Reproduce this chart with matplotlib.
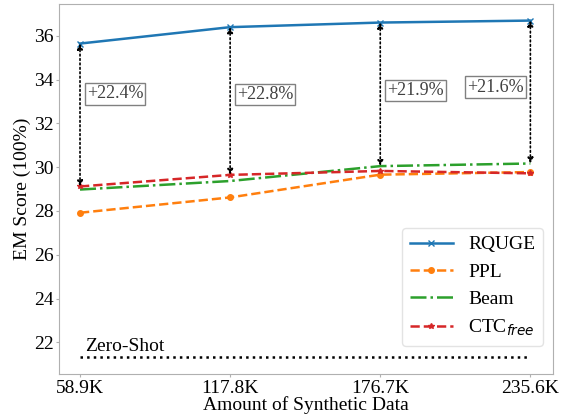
import matplotlib
matplotlib.use('Agg')
import numpy as np
from matplotlib import pyplot as plt

# data
sizes       = ['58.9K', '117.8K', '176.7K', '235.6K']
rquge       = [35.65, 36.40, 36.61, 36.70]
ppl         = [27.92, 28.62, 29.66, 29.78]
beam        = [28.98, 29.37, 30.05, 30.17]
ctc_free    = [29.12, 29.65, 29.83, 29.72]
zero_shot   = 21.33
gains       = ['+22.4%', '+22.8%', '+21.9%', '+21.6%']
gain_label_y = [33.35, 33.33, 33.50, 33.66]

plt.rcParams['font.family'] = ['Liberation Serif', 'DejaVu Serif']
plt.rcParams['mathtext.fontset'] = 'dejavusans'


def main():
    x = np.arange(len(sizes))

    fig = plt.figure(figsize=(5.7, 4.17), dpi=100)
    ax = fig.add_subplot(1, 1, 1)
    fig.subplots_adjust(left=0.1035, right=0.970, top=0.990, bottom=0.103)

    ax.plot(x, rquge, color='tab:blue', lw=1.8, marker='x', ms=4, label='RQUGE')
    ax.plot(x, ppl, color='tab:orange', lw=1.8, ls='--', marker='o', ms=4, label='PPL')
    ax.plot(x, beam, color='tab:green', lw=1.8, ls='-.', label='Beam')
    ax.plot(x, ctc_free, color='tab:red', lw=1.8, ls='--', marker='*', ms=4,
            label=r'CTC$_{free}$')

    ax.plot(x, [zero_shot] * len(x), color='black', ls=':', lw=1.8)
    ax.text(0.035, zero_shot + 0.5, 'Zero-Shot', fontsize=14, va='center', ha='left')

    # arrows between RQUGE and the best baseline
    best = np.max(np.vstack([ppl, beam, ctc_free]), axis=0)
    for i in range(len(x)):
        ax.annotate('', xy=(x[i], best[i]), xytext=(x[i], rquge[i]),
                    arrowprops=dict(arrowstyle='<|-|>', color='black', lw=1.2,
                                    ls=':', shrinkA=0, shrinkB=0,
                                    mutation_scale=8))
        last = i == len(x) - 1
        tx = x[i] - 0.045 if last else x[i] + 0.045
        ax.text(tx, gain_label_y[i], gains[i], fontsize=13, color='#404040',
                ha='right' if last else 'left', va='center',
                bbox=dict(boxstyle='square,pad=0.12', facecolor='white',
                          edgecolor='#808080', lw=1))

    ax.set_xticks(x)
    ax.set_xticklabels(sizes)
    ax.set_yticks(np.arange(22, 37, 2))
    ax.set_ylim(20.55, 37.45)
    ax.set_xlim(-0.14, 3.15)
    ax.tick_params(labelsize=14, length=2, color='#b0b0b0', pad=2)
    ax.set_xlabel('Amount of Synthetic Data', size=14, labelpad=0)
    ax.set_ylabel('EM Score (100%)', size=14, labelpad=2)

    for s in ax.spines.values():
        s.set_color('#b0b0b0')

    ax.legend(loc='lower right', bbox_to_anchor=(1, 0.05), fontsize=14,
              handlelength=2.2, edgecolor='#dddddd')

    fig.savefig('out.png', dpi=100)


if __name__ == '__main__':
    main()
